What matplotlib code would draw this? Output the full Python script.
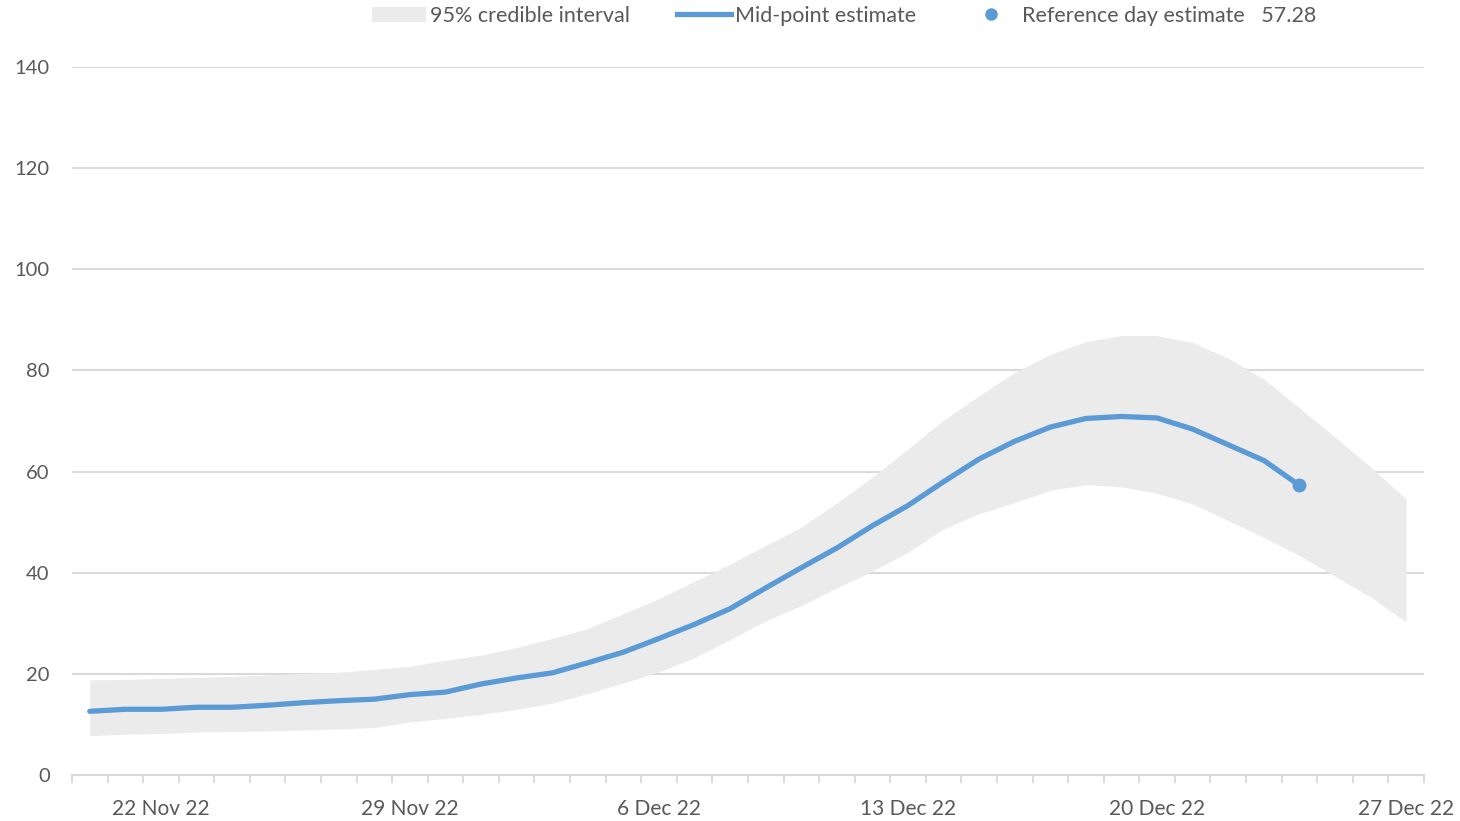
import numpy as np
import pandas as pd
import matplotlib
matplotlib.use("Agg")
import matplotlib.pyplot as plt
from matplotlib.patches import Patch
from matplotlib.lines import Line2D

plt.rcParams['font.family'] = ['Lato', 'DejaVu Sans']

# daily values, 20 Nov 22 to 27 Dec 22
dates = pd.date_range("2022-11-20", "2022-12-27", freq="D")

upper = [18.8, 18.9, 19.1, 19.3, 19.5, 19.8, 20.1, 20.3, 20.9, 21.5,
         22.7, 23.7, 25.2, 27.0, 29.0, 31.9, 34.9, 38.3, 41.7, 45.4,
         49.0, 53.8, 58.9, 64.5, 70.2, 75.0, 79.6, 83.2, 85.7, 86.9,
         86.9, 85.5, 82.4, 78.3, 72.6, 66.8, 60.9, 54.6]

lower = [7.8, 8.1, 8.2, 8.5, 8.6, 8.7, 8.9, 9.1, 9.4, 10.5,
         11.2, 12.0, 13.0, 14.2, 16.1, 18.2, 20.4, 23.2, 26.8, 30.5,
         33.5, 37.0, 40.3, 44.1, 48.7, 51.7, 53.9, 56.3, 57.4, 57.0,
         55.7, 53.6, 50.3, 47.0, 43.4, 39.3, 35.2, 30.3]

mid = [12.6, 13.0, 13.0, 13.4, 13.4, 13.8, 14.3, 14.7, 15.0, 15.9,
       16.4, 18.0, 19.2, 20.2, 22.2, 24.3, 27.0, 29.8, 32.9, 37.0,
       41.0, 44.9, 49.3, 53.3, 58.0, 62.5, 66.0, 68.8, 70.5, 70.9,
       70.6, 68.4, 65.3, 62.2, 57.28]

ref_value = 57.28
label_days = [2, 9, 16, 23, 30, 37]

blue = '#5b9bd5'
band = '#ebebeb'
grey_txt = '#595959'
grid_c = '#d9d9d9'

x = np.arange(len(dates))
xm = np.arange(len(mid))

fig = plt.figure(figsize=(14.6, 8.21), dpi=100)
ax = fig.add_axes([0.0493, 0.056, 0.926, 0.8624])

ax.fill_between(x, lower, upper, color=band, linewidth=0, zorder=1)
ax.plot(xm, mid, color=blue, linewidth=3.8, solid_capstyle='round', zorder=3)
ax.plot(xm[-1], ref_value, 'o', color=blue, markersize=9, zorder=4)

ax.set_xlim(-0.5, len(dates) - 0.5)
ax.set_ylim(0, 140)
ax.set_yticks(np.arange(0, 141, 20))
ax.yaxis.grid(True, color=grid_c, linewidth=1.5, zorder=0)
ax.set_axisbelow(True)

# tick marks between categories, labels every seventh day
ax.set_xticks(np.arange(-0.5, len(dates), 1.0))
ax.set_xticklabels([])
ax.set_xticks(label_days, minor=True)
ax.set_xticklabels([d.strftime('%-d %b %y') for d in dates[label_days]], minor=True)
ax.tick_params(axis='x', which='major', length=6, width=1.3, color=grid_c, direction='out')
ax.tick_params(axis='x', which='minor', length=0, pad=17, labelsize=15, labelcolor=grey_txt)
ax.tick_params(axis='y', length=0, pad=16, labelsize=14.5, labelcolor=grey_txt)

for s in ['left', 'right', 'top']:
    ax.spines[s].set_visible(False)
ax.spines['bottom'].set_color(grid_c)
ax.spines['bottom'].set_linewidth(1.5)

handles = [Patch(facecolor=band, edgecolor='none'),
           Line2D([0], [0], color=blue, linewidth=3.8),
           Line2D([0], [0], marker='o', color=blue, linestyle='none', markersize=8)]
labels = ['95% credible interval', 'Mid-point estimate',
          'Reference day estimate   %.2f' % ref_value]
fig.legend(handles, labels, loc='center', bbox_to_anchor=(0.578, 0.981),
           ncol=3, frameon=False, fontsize=15.5, labelcolor=grey_txt,
           handlelength=2.5, handletextpad=0.2, columnspacing=2.2)

fig.savefig('out.png', dpi=100)
